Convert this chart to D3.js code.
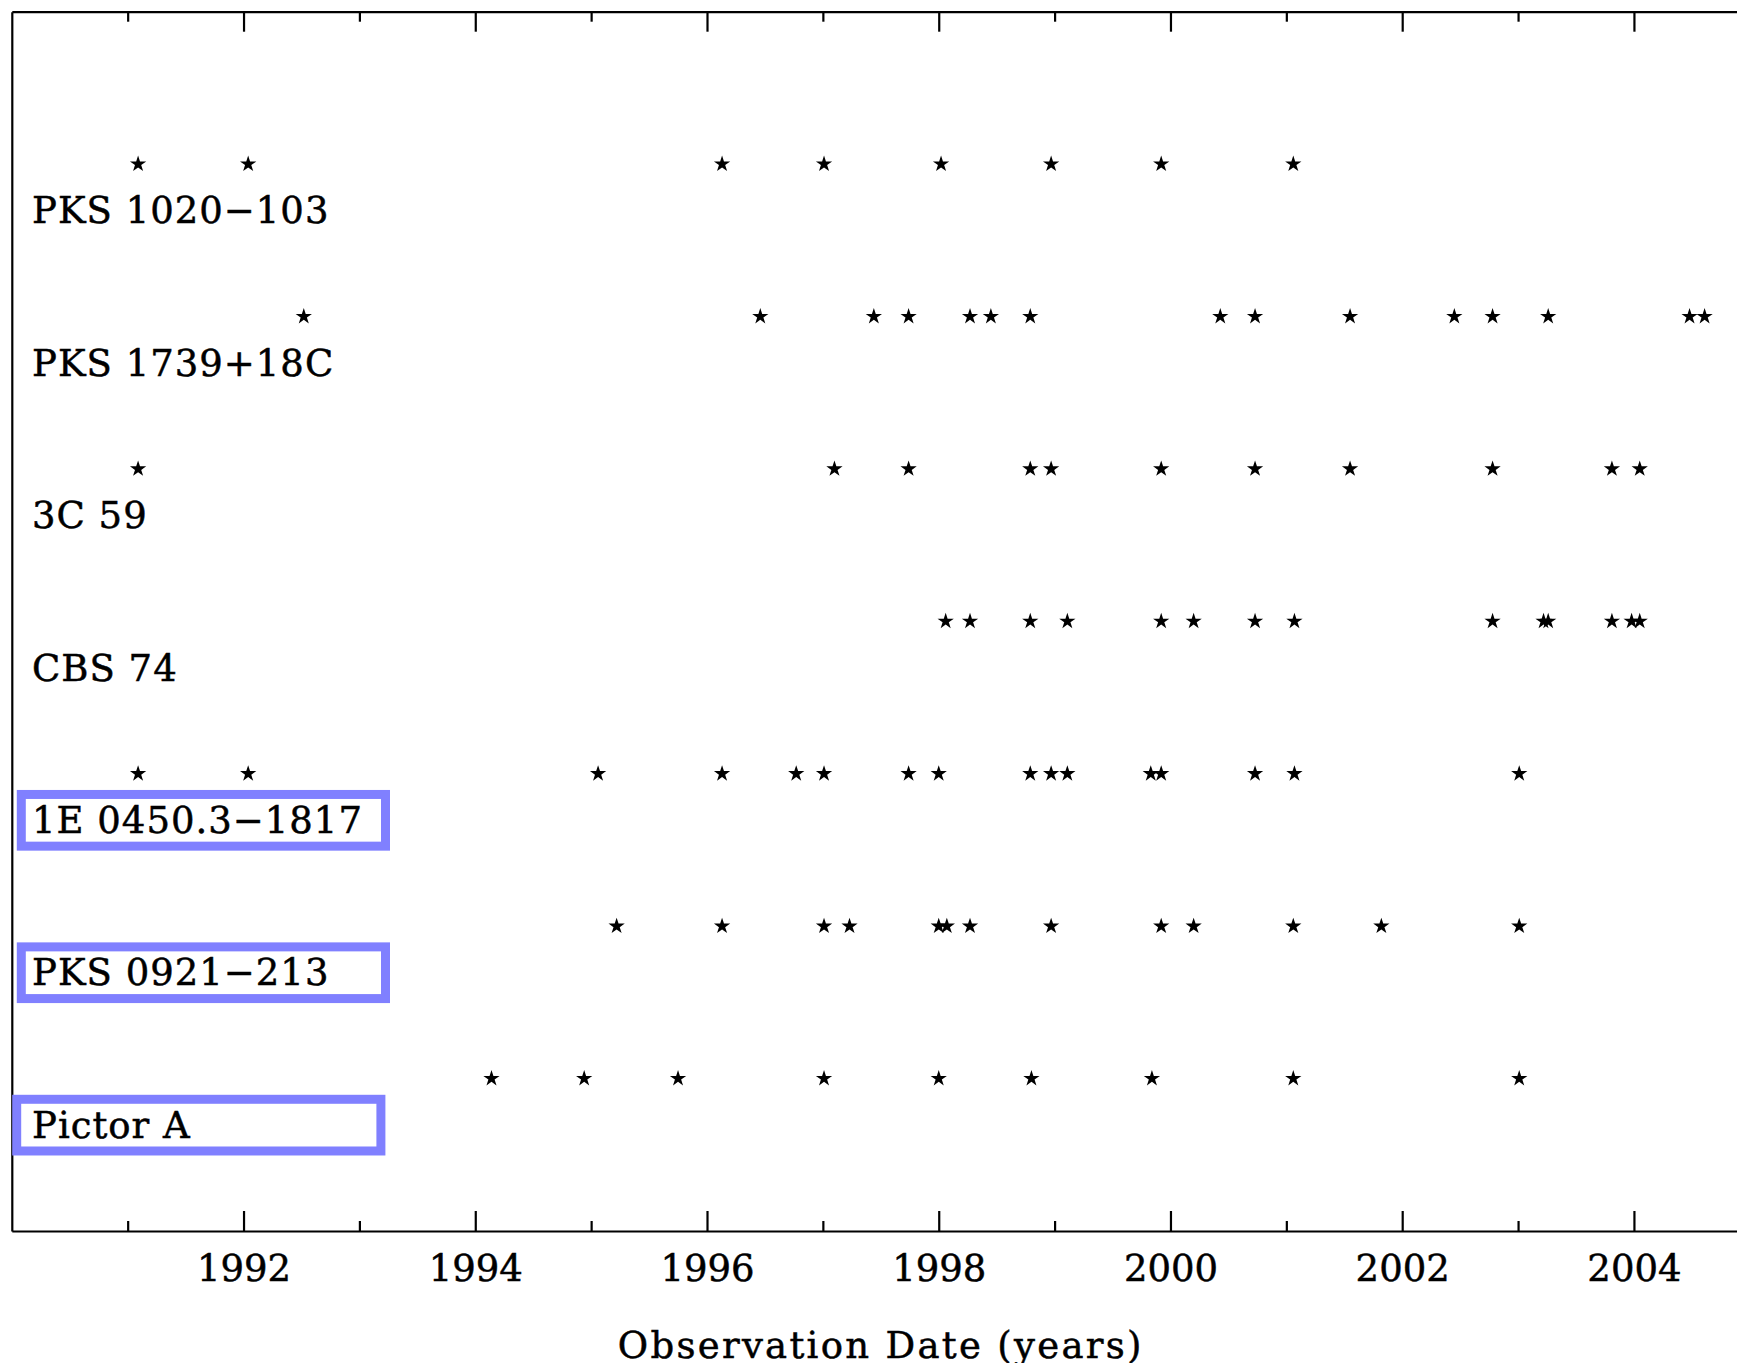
<!DOCTYPE html>
<html>
<head>
<meta charset="utf-8">
<script src="https://cdn.jsdelivr.net/npm/d3@7"></script>
<style>
  html, body { margin: 0; padding: 0; background: #fff; }
  svg { display: block; }
  text { font-family: "DejaVu Serif", serif; fill: #000; stroke: #000; stroke-width: 0.5px; }
</style>
</head>
<body>
<svg id="chart" width="1737" height="1363"></svg>
<script>
// Radio sources, listed top to bottom
const sources = ["PKS 1020−103", "PKS 1739+18C", "3C 59", "CBS 74",
                 "1E 0450.3−1817", "PKS 0921−213", "Pictor A"];
// Sources whose names are framed
const highlighted = ["1E 0450.3−1817", "PKS 0921−213", "Pictor A"];

// Observation epochs per source (decimal years)
const pks1020 = [1991.09, 1992.04, 1996.13, 1997.01, 1998.02, 1998.97, 1999.92, 2001.06];
const pks1739 = [1992.52, 1996.46, 1997.44, 1997.74, 1998.27, 1998.45, 1998.79, 2000.43,
                 2000.73, 2001.55, 2002.45, 2002.78, 2003.26, 2004.48, 2004.61];
const c59     = [1991.09, 1997.10, 1997.74, 1998.79, 1998.97, 1999.92, 2000.73, 2001.55,
                 2002.78, 2003.81, 2004.05];
const cbs74   = [1998.06, 1998.27, 1998.79, 1999.11, 1999.92, 2000.20, 2000.73, 2001.07,
                 2002.78, 2003.22, 2003.26, 2003.81, 2003.98, 2004.05];
const e0450   = [1991.09, 1992.04, 1995.06, 1996.13, 1996.77, 1997.01, 1997.74, 1998.00,
                 1998.79, 1998.97, 1999.11, 1999.83, 1999.92, 2000.73, 2001.07, 2003.01];
const pks0921 = [1995.22, 1996.13, 1997.01, 1997.23, 1998.00, 1998.07, 1998.27, 1998.97,
                 1999.92, 2000.20, 2001.06, 2001.82, 2003.01];
const pictorA = [1994.14, 1994.94, 1995.75, 1997.01, 1998.00, 1998.80, 1999.84, 2001.06,
                 2003.01];
const epochs = [pks1020, pks1739, c59, cbs74, e0450, pks0921, pictorA];

// Axis ticks
const majorYears = [1992, 1994, 1996, 1998, 2000, 2002, 2004];
const minorYears = [1991, 1993, 1995, 1997, 1999, 2001, 2003, 2005];
const xTitle = "Observation Date (years)";

// ---- layout & style ----
const FONT = 37;
const frame = { left: 11.8, right: 1749.8, top: 11.7, bottom: 1231 };
const boxStyle = { color: "#8080ff", width: 9, dx: -10.7, dy: -38.5, w: 364.2, h: 51.7 };
const boxNudge = { "Pictor A": -4.6 };

const svg = d3.select("#chart");

const x = d3.scaleLinear().domain([1990, 2005]).range([frame.left, frame.right]);
const y = d3.scaleLinear().domain([0, sources.length + 1]).range([frame.top, frame.bottom]);

function styleAxis(g) {
  g.attr("font-family", null).attr("font-size", null);
  g.selectAll(".domain").attr("stroke", "#000").attr("stroke-width", 2.2);
  g.selectAll(".tick line").attr("stroke", "#000").attr("stroke-width", 2.2);
}

// bottom axis: labelled major ticks, short minor ticks, all pointing inward
svg.append("g")
  .attr("transform", `translate(0,${frame.bottom})`)
  .call(d3.axisBottom(x).tickValues(majorYears).tickFormat(d3.format("d"))
        .tickSizeInner(-20).tickSizeOuter(0))
  .call(styleAxis)
  .call(g => g.selectAll(".tick text")
      .attr("y", 50).attr("dy", null)
      .style("font-size", FONT + "px"));

svg.append("g")
  .attr("transform", `translate(0,${frame.bottom})`)
  .call(d3.axisBottom(x).tickValues(minorYears).tickFormat("")
        .tickSizeInner(-10).tickSizeOuter(0))
  .call(styleAxis)
  .call(g => g.select(".domain").remove());

// top axis
svg.append("g")
  .attr("transform", `translate(0,${frame.top})`)
  .call(d3.axisTop(x).tickValues(majorYears).tickFormat("")
        .tickSizeInner(-20).tickSizeOuter(0))
  .call(styleAxis);

svg.append("g")
  .attr("transform", `translate(0,${frame.top})`)
  .call(d3.axisTop(x).tickValues(minorYears).tickFormat("")
        .tickSizeInner(-10).tickSizeOuter(0))
  .call(styleAxis)
  .call(g => g.select(".domain").remove());

// left frame edge
svg.append("g")
  .attr("transform", `translate(${frame.left},0)`)
  .call(d3.axisLeft(y).tickValues([]).tickSizeOuter(0))
  .call(styleAxis);

// source rows: stars at each epoch, name underneath
const star = d3.symbol(d3.symbolStar, 82);

const rows = svg.append("g").selectAll("g.row")
  .data(sources.map((name, i) => ({ name, dates: epochs[i], row: i + 1 })))
  .join("g").attr("class", "row");

rows.selectAll("path.obs")
  .data(d => d.dates.map(t => ({ t, row: d.row })))
  .join("path").attr("class", "obs")
  .attr("d", star)
  .attr("fill", "#000")
  .attr("transform", d => `translate(${x(d.t)},${y(d.row)})`);

const LABEL_X = 32, LABEL_DY = 59.2;

rows.append("text")
  .attr("x", LABEL_X)
  .attr("y", d => y(d.row) + LABEL_DY)
  .style("font-size", FONT + "px")
  .style("letter-spacing", "1px")
  .text(d => d.name);

// frames around selected source names
rows.filter(d => highlighted.includes(d.name))
  .append("rect")
  .attr("x", d => LABEL_X + boxStyle.dx + (boxNudge[d.name] || 0))
  .attr("y", d => y(d.row) + LABEL_DY + boxStyle.dy)
  .attr("width", boxStyle.w)
  .attr("height", boxStyle.h)
  .attr("fill", "none")
  .attr("stroke", boxStyle.color)
  .attr("stroke-width", boxStyle.width);

// x-axis title
svg.append("text")
  .attr("x", (x(1990) + x(2005)) / 2)
  .attr("y", 1358)
  .attr("text-anchor", "middle")
  .style("font-size", FONT + "px")
  .style("letter-spacing", "2.3px")
  .text(xTitle);
</script>
</body>
</html>
